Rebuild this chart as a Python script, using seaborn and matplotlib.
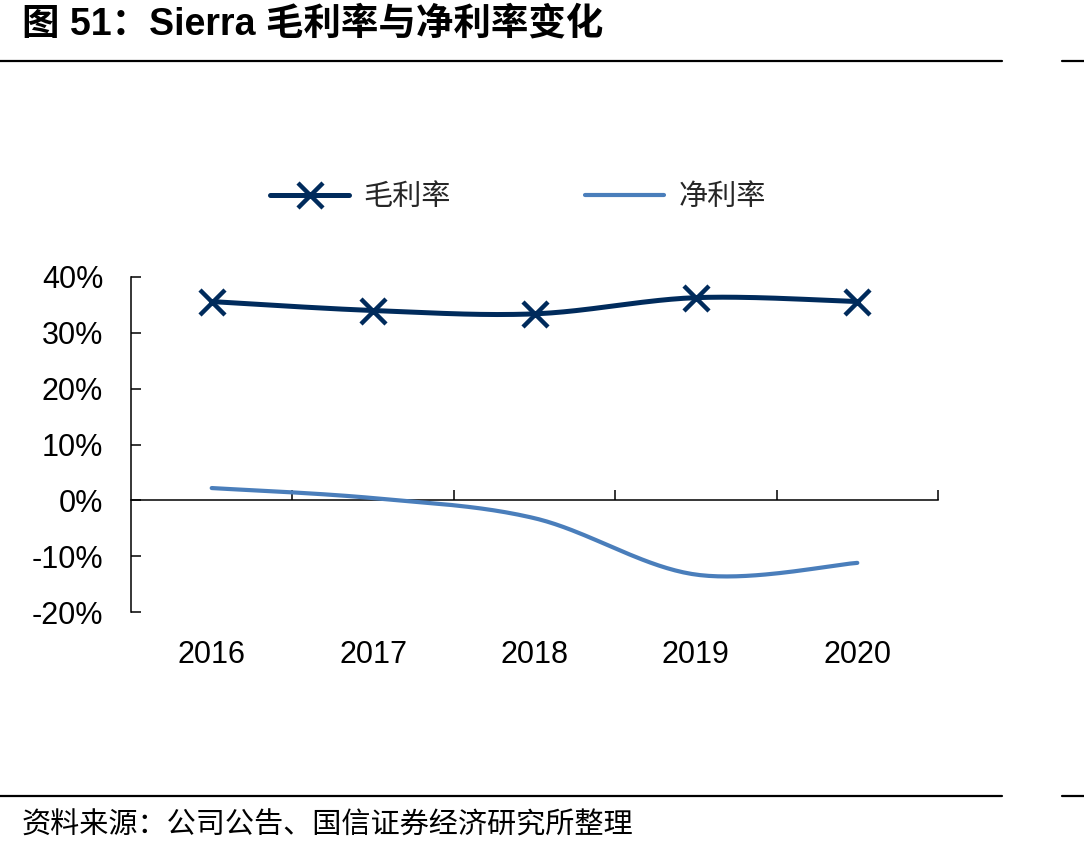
import numpy as np
import pandas as pd
import matplotlib
matplotlib.use("Agg")
import matplotlib.pyplot as plt
from matplotlib.lines import Line2D
import seaborn as sns

# ---- data ----
years = ["2016", "2017", "2018", "2019", "2020"]
gross_margin = [35.6, 34.0, 33.4, 36.3, 35.6]
net_margin = [2.2, 0.4, -3.2, -13.3, -11.2]
y_ticks = [-20, -10, 0, 10, 20, 30, 40]
y_tick_labels = ["-20%", "-10%", "0%", "10%", "20%", "30%", "40%"]
series_names = ["毛利率", "净利率"]
title_text = "图 51：Sierra 毛利率与净利率变化"
source_text = "资料来源：公司公告、国信证券经济研究所整理"

GROSS_C = "#002B5C"
NET_C = "#4A7EBB"

sns.set_theme(style="white")
plt.rcParams['font.family'] = ['Liberation Sans', 'Noto Sans CJK SC', 'DejaVu Sans']
CJK = ['Noto Sans CJK SC', 'DejaVu Sans']


def smooth(vals, n=40):
    """Excel-like smoothed curve (Catmull-Rom style Bezier through the points)."""
    xs = np.arange(len(vals), dtype=float)
    ys = np.asarray(vals, dtype=float)
    P = np.column_stack([xs, ys])
    out = []
    for i in range(len(P) - 1):
        p0 = P[i - 1] if i > 0 else P[i]
        p1 = P[i]
        p2 = P[i + 1]
        p3 = P[i + 2] if i + 2 < len(P) else P[i + 1]
        c1 = p1 + (p2 - p0) / 6.0
        c2 = p2 - (p3 - p1) / 6.0
        t = np.linspace(0, 1, n)[:, None]
        seg = ((1 - t) ** 3) * p1 + 3 * ((1 - t) ** 2) * t * c1 + 3 * (1 - t) * t ** 2 * c2 + t ** 3 * p2
        out.append(seg if i == 0 else seg[1:])
    arr = np.vstack(out)
    return arr[:, 0], arr[:, 1]


fig = plt.figure(figsize=(10.84, 8.56), dpi=100)
ax = fig.add_axes([131 / 1084, 1 - 612 / 856, (938 - 131) / 1084, (612 - 277) / 856])

gx, gy = smooth(gross_margin)
nx, ny = smooth(net_margin)
df_g = pd.DataFrame({"x": gx, "y": gy})
df_n = pd.DataFrame({"x": nx, "y": ny})
sns.lineplot(data=df_n, x="x", y="y", ax=ax, color=NET_C, lw=3.0, sort=False, zorder=3)
sns.lineplot(data=df_g, x="x", y="y", ax=ax, color=GROSS_C, lw=3.6, sort=False, zorder=4)
ax.plot(np.arange(len(years)), gross_margin, ls="none", marker="x", ms=18, mew=3.2,
        color=GROSS_C, zorder=5)

ax.set_xlim(-0.5, len(years) - 0.5)
ax.set_ylim(-20, 40)
ax.set_xlabel("")
ax.set_ylabel("")

# spines
for s in ["top", "right", "bottom"]:
    ax.spines[s].set_visible(False)
ax.spines["left"].set_color("black")
ax.spines["left"].set_linewidth(1.1)

ax.set_yticks(y_ticks)
ax.set_yticklabels(y_tick_labels)
ax.tick_params(axis="y", direction="in", length=7, width=1.1, color="black",
               labelsize=22, pad=20, left=True, labelcolor="black")
ax.set_xticks(np.arange(len(years)))
ax.set_xticklabels(years)
ax.tick_params(axis="x", length=0, labelsize=22, pad=20, labelcolor="black")

# zero line axis with category boundary ticks
sec = ax.secondary_xaxis(20 / 60)
sec.spines["bottom"].set_color("black")
sec.spines["bottom"].set_linewidth(1.1)
sec.set_xticks(np.arange(len(years)) + 0.5)
sec.tick_params(axis="x", direction="in", length=7, width=1.1, color="black", labelbottom=False)
sec.set_xticklabels([])

ax.grid(False)

# legend
handles = [
    Line2D([], [], color=GROSS_C, lw=3.6, marker="x", ms=18, mew=3.2),
    Line2D([], [], color=NET_C, lw=3.0),
]
leg = fig.legend(handles, series_names, loc="center", bbox_to_anchor=(518 / 1084, 1 - 197 / 856),
                 ncol=2, frameon=False, prop={"family": CJK, "size": 21},
                 handlelength=2.7, handletextpad=0.5, columnspacing=4.6)

# title and footer
fig.text(22 / 1084, 1 - 24 / 856, title_text, ha="left", va="center", fontsize=27,
         fontweight="bold", family=['Liberation Sans', 'Noto Sans CJK SC'], color="black")
fig.text(22 / 1084, 1 - 826 / 856, source_text, ha="left", va="center", fontsize=21,
         family=CJK, color="black")

# rules
for yy in [61, 796]:
    fig.add_artist(Line2D([0, 1002 / 1084], [1 - yy / 856] * 2, color="black", lw=1.6))
    fig.add_artist(Line2D([1062 / 1084, 1], [1 - yy / 856] * 2, color="black", lw=1.6))

fig.savefig("out.png", dpi=100, facecolor="white")
